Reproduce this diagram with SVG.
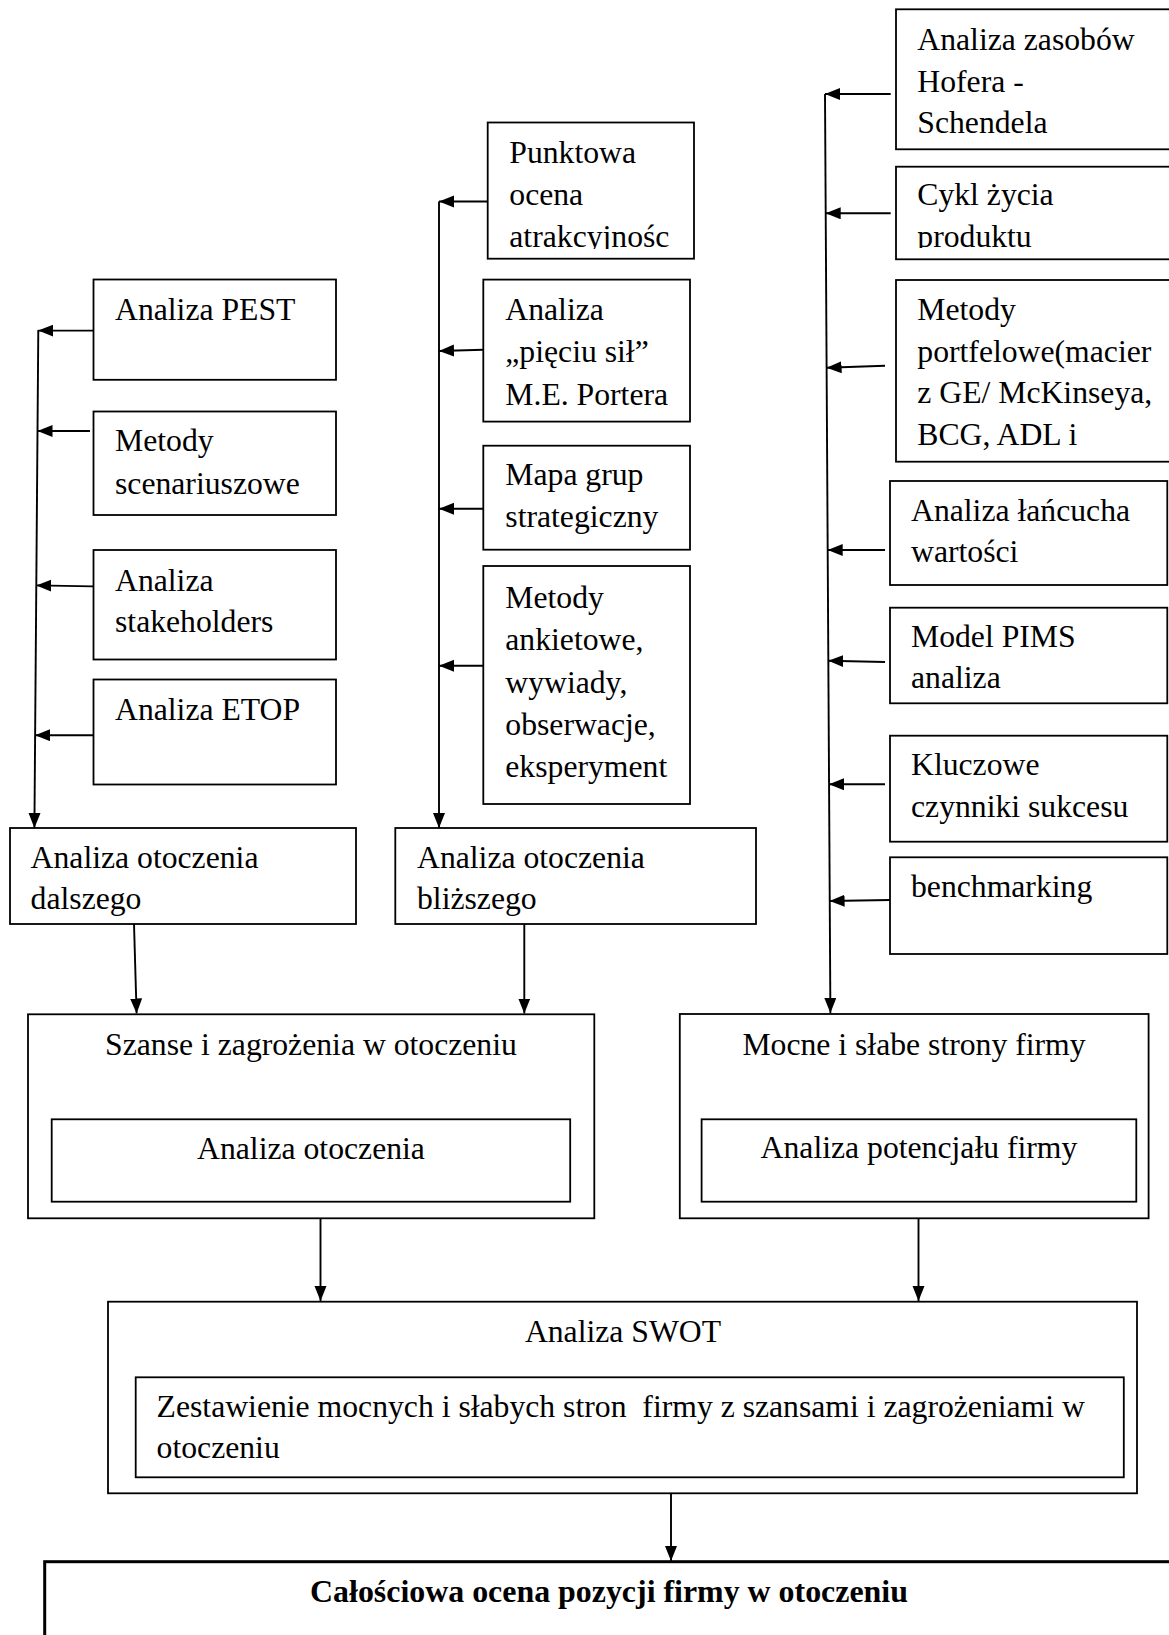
<svg xmlns="http://www.w3.org/2000/svg" width="1169" height="1635" viewBox="0 0 1169 1635">
<defs>
<style>
.b{fill:#fff;stroke:#000;stroke-width:1.8}
.t{font-family:"Liberation Serif","Times New Roman",serif;font-size:31.7px;fill:#000}
.c{text-anchor:middle}
.bold{font-weight:bold;font-size:31.9px}
.l{fill:none;stroke:#000;stroke-width:1.9}
</style>
<marker id="ah" markerUnits="userSpaceOnUse" markerWidth="17" markerHeight="13" refX="15" refY="6" orient="auto">
<path d="M0,0 L15,6 L0,12 z" fill="#000"/>
</marker>
<clipPath id="clipPunkt"><rect x="488" y="123" width="205" height="126"/></clipPath>
<clipPath id="clipCykl"><rect x="896" y="167" width="273" height="81"/></clipPath>
</defs>
<rect width="1169" height="1635" fill="#fff"/>

<g id="pest"><rect class="b" x="93.5" y="279.5" width="242.5" height="100.3"/><text class="t" x="115" y="320">Analiza PEST</text></g>
<g id="scen"><rect class="b" x="93.5" y="411.5" width="242.5" height="103.5"/><text class="t" x="115" y="451">Metody</text><text class="t" x="115" y="493.5">scenariuszowe</text></g>
<g id="stake"><rect class="b" x="93.5" y="550" width="242.5" height="109.5"/><text class="t" x="115" y="590.5">Analiza</text><text class="t" x="115" y="632">stakeholders</text></g>
<g id="etop"><rect class="b" x="93.5" y="679.5" width="242.5" height="105"/><text class="t" x="115" y="719.7">Analiza ETOP</text></g>
<g id="dalszego"><rect class="b" x="10" y="828" width="346" height="96"/><text class="t" x="30.6" y="868.3">Analiza otoczenia</text><text class="t" x="30.6" y="909.3">dalszego</text></g>

<g id="punktowa"><rect class="b" x="487.7" y="122.5" width="206.3" height="136.2"/><g clip-path="url(#clipPunkt)"><text class="t" x="509.3" y="162.7">Punktowa</text><text class="t" x="509.3" y="205">ocena</text><text class="t" x="509.3" y="247.3">atrakcyjnośc</text></g></g>
<g id="porter"><rect class="b" x="483.3" y="279.6" width="206.7" height="142"/><text class="t" x="505.3" y="319.8">Analiza</text><text class="t" x="505.3" y="362">„pięciu sił”</text><text class="t" x="505.3" y="404.6">M.E. Portera</text></g>
<g id="mapa"><rect class="b" x="483.3" y="445.7" width="206.7" height="104"/><text class="t" x="505.3" y="485">Mapa grup</text><text class="t" x="505.3" y="527">strategiczny</text></g>
<g id="ankiety"><rect class="b" x="483.3" y="566" width="206.7" height="238"/><text class="t" x="505.3" y="607.8">Metody</text><text class="t" x="505.3" y="650.2">ankietowe,</text><text class="t" x="505.3" y="692.6">wywiady,</text><text class="t" x="505.3" y="735">obserwacje,</text><text class="t" x="505.3" y="777.4">eksperyment</text></g>
<g id="blizszego"><rect class="b" x="395.3" y="828" width="360.7" height="96"/><text class="t" x="417" y="868.3">Analiza otoczenia</text><text class="t" x="417" y="909.3">bliższego</text></g>

<g id="hofer"><rect class="b" x="896" y="9.3" width="280" height="140"/><text class="t" x="917.3" y="50">Analiza zasobów</text><text class="t" x="917.3" y="91.7">Hofera -</text><text class="t" x="917.3" y="133.3">Schendela</text></g>
<g id="cykl"><rect class="b" x="896" y="166.7" width="280" height="92.6"/><g clip-path="url(#clipCykl)"><text class="t" x="917.3" y="205">Cykl życia</text><text class="t" x="917.3" y="246.7">produktu</text></g></g>
<g id="portfel"><rect class="b" x="896" y="280" width="280" height="181.7"/><text class="t" x="917.3" y="320">Metody</text><text class="t" x="917.3" y="361.7">portfelowe(macier</text><text class="t" x="917.3" y="403.3">z GE/ McKinseya,</text><text class="t" x="917.3" y="445">BCG, ADL i</text></g>
<g id="lancuch"><rect class="b" x="890" y="481" width="277.3" height="104"/><text class="t" x="911" y="520.7">Analiza łańcucha</text><text class="t" x="911" y="561.7">wartości</text></g>
<g id="pims"><rect class="b" x="890" y="607.7" width="277.3" height="95.6"/><text class="t" x="911" y="646.7">Model PIMS</text><text class="t" x="911" y="688.3">analiza</text></g>
<g id="kcs"><rect class="b" x="890" y="735.7" width="277.3" height="106"/><text class="t" x="911" y="775">Kluczowe</text><text class="t" x="911" y="816.7">czynniki sukcesu</text></g>
<g id="bench"><rect class="b" x="890" y="857.3" width="277.3" height="96.7"/><text class="t" x="911" y="896.7">benchmarking</text></g>

<g id="szanse"><rect class="b" x="28" y="1014.3" width="566.3" height="204"/><text class="t c" x="311" y="1055">Szanse i zagrożenia w otoczeniu</text><rect class="b" x="51.7" y="1119.3" width="518.5" height="82.4"/><text class="t c" x="311" y="1159.3">Analiza otoczenia</text></g>
<g id="mocne"><rect class="b" x="679.8" y="1014" width="468.8" height="204.3"/><text class="t c" x="914" y="1055">Mocne i słabe strony firmy</text><rect class="b" x="701.6" y="1119.3" width="434.7" height="82.4"/><text class="t c" x="919" y="1158.3">Analiza potencjału firmy</text></g>
<g id="swot"><rect class="b" x="108" y="1301.7" width="1029" height="191.6"/><text class="t c" x="623" y="1341.7">Analiza SWOT</text><rect class="b" x="135.7" y="1377.3" width="988.1" height="100"/><text class="t" x="156.6" y="1416.7" style="white-space:pre">Zestawienie mocnych i słabych stron  firmy z szansami i zagrożeniami w</text><text class="t" x="156.6" y="1458.3">otoczeniu</text></g>
<g id="calosc"><rect fill="#fff" stroke="#000" stroke-width="3" x="44.7" y="1561.7" width="1140" height="100"/><text class="t c bold" x="609" y="1601.7">Całościowa ocena pozycji firmy w otoczeniu</text></g>

<g id="connectors">
<line class="l" x1="38.3" y1="330" x2="34.4" y2="828" marker-end="url(#ah)"/>
<line class="l" x1="93.3" y1="330.6" x2="38.2" y2="330.6" marker-end="url(#ah)"/>
<line class="l" x1="90" y1="431" x2="37.5" y2="431" marker-end="url(#ah)"/>
<line class="l" x1="93" y1="586.4" x2="36.3" y2="585.4" marker-end="url(#ah)"/>
<line class="l" x1="93" y1="735.2" x2="35.1" y2="735.2" marker-end="url(#ah)"/>

<line class="l" x1="439" y1="201.5" x2="439" y2="828" marker-end="url(#ah)"/>
<line class="l" x1="487.7" y1="201.5" x2="439" y2="201.5" marker-end="url(#ah)"/>
<line class="l" x1="483.3" y1="349.7" x2="439" y2="351" marker-end="url(#ah)"/>
<line class="l" x1="483.3" y1="508.7" x2="439" y2="508.7" marker-end="url(#ah)"/>
<line class="l" x1="483.3" y1="665.8" x2="439" y2="665.8" marker-end="url(#ah)"/>

<line class="l" x1="825" y1="94" x2="830.4" y2="1013" marker-end="url(#ah)"/>
<line class="l" x1="890.7" y1="94" x2="825" y2="94" marker-end="url(#ah)"/>
<line class="l" x1="890.7" y1="213.3" x2="825.7" y2="213.3" marker-end="url(#ah)"/>
<line class="l" x1="885" y1="365.7" x2="826.6" y2="367.7" marker-end="url(#ah)"/>
<line class="l" x1="885" y1="550" x2="827.7" y2="550" marker-end="url(#ah)"/>
<line class="l" x1="885" y1="662" x2="828.3" y2="660.7" marker-end="url(#ah)"/>
<line class="l" x1="885" y1="784.3" x2="829" y2="784.3" marker-end="url(#ah)"/>
<line class="l" x1="890" y1="900" x2="829.6" y2="901" marker-end="url(#ah)"/>

<line class="l" x1="134" y1="924" x2="136.6" y2="1013.5" marker-end="url(#ah)"/>
<line class="l" x1="524.3" y1="924" x2="524.3" y2="1013.5" marker-end="url(#ah)"/>
<line class="l" x1="320.5" y1="1218.3" x2="320.5" y2="1301" marker-end="url(#ah)"/>
<line class="l" x1="918.5" y1="1218.3" x2="918.5" y2="1301" marker-end="url(#ah)"/>
<line class="l" x1="671" y1="1493.3" x2="671" y2="1561" marker-end="url(#ah)"/>
</g>
</svg>
